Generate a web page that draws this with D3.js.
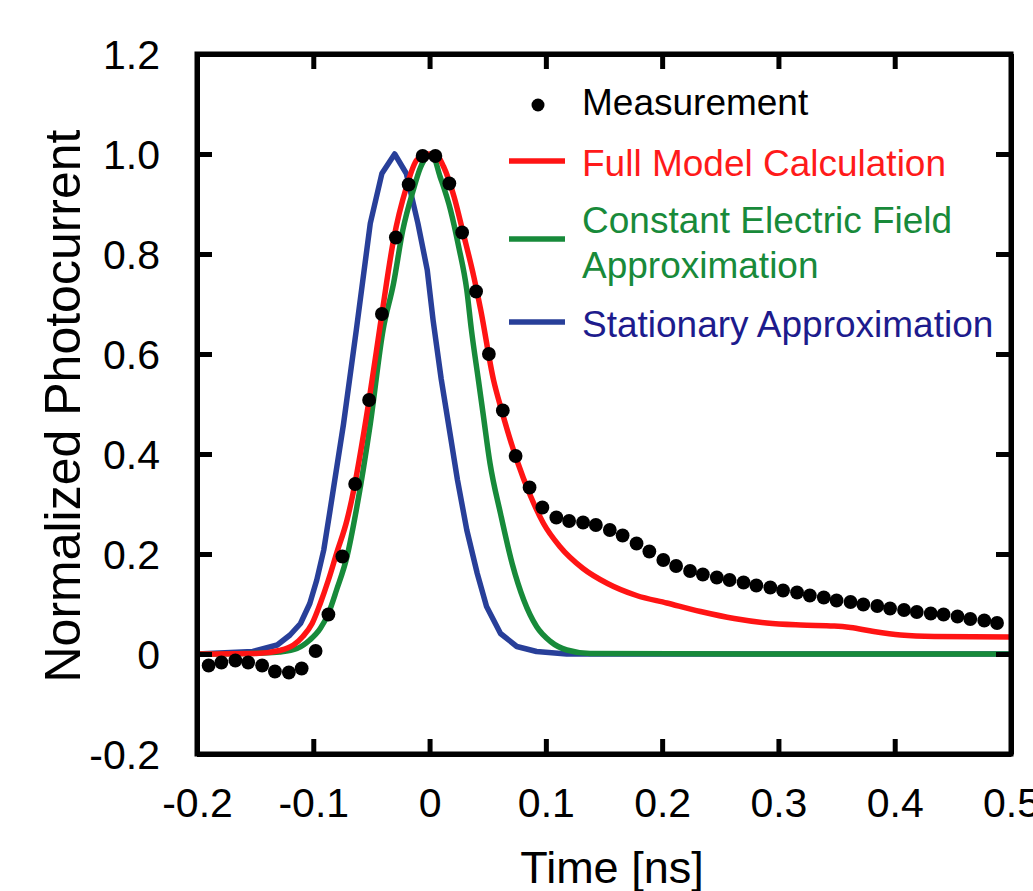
<!DOCTYPE html>
<html>
<head>
<meta charset="utf-8">
<script src="https://cdn.jsdelivr.net/npm/d3@7"></script>
<style>
    body { margin: 0; background: #fff; }
    #chart-area { width: 1033px; height: 891px; }
    text { font-family: "Liberation Sans", Arial, sans-serif; }
</style>
</head>
<body>
<div id="chart-area"></div>
<script>

// measurement points
const measTime = [-0.190, -0.179, -0.167, -0.156, -0.144, -0.133, -0.121, -0.110, -0.098, -0.087,
    -0.075, -0.064, -0.052, -0.041, -0.029, -0.018, -0.006, 0.005, 0.017, 0.028,
    0.040, 0.051, 0.063, 0.074, 0.086, 0.097, 0.109, 0.120, 0.132, 0.143,
    0.155, 0.166, 0.178, 0.189, 0.201, 0.212, 0.224, 0.235, 0.247, 0.258,
    0.270, 0.281, 0.293, 0.304, 0.316, 0.327, 0.339, 0.350, 0.362, 0.373,
    0.385, 0.396, 0.408, 0.419, 0.431, 0.442, 0.454, 0.465, 0.477, 0.488];
const measValue = [-0.023, -0.017, -0.013, -0.017, -0.023, -0.035, -0.037, -0.029, 0.006, 0.079,
    0.195, 0.340, 0.508, 0.680, 0.833, 0.939, 0.996, 0.996, 0.941, 0.843,
    0.725, 0.600, 0.487, 0.396, 0.333, 0.293, 0.273, 0.266, 0.263, 0.258,
    0.248, 0.237, 0.221, 0.205, 0.188, 0.176, 0.166, 0.159, 0.153, 0.148,
    0.143, 0.137, 0.133, 0.127, 0.123, 0.117, 0.113, 0.107, 0.104, 0.099,
    0.096, 0.091, 0.088, 0.084, 0.081, 0.079, 0.075, 0.070, 0.067, 0.062];

// full model calculation
const fullTime = [-0.200, -0.149, -0.129, -0.117, -0.109, -0.101, -0.094, -0.087, -0.080, -0.071,
    -0.067, -0.052, -0.041, -0.031, -0.020, -0.011, -0.002, 0.006, 0.012, 0.021,
    0.029, 0.038, 0.044, 0.055, 0.062, 0.075, 0.087, 0.098, 0.112, 0.132,
    0.153, 0.178, 0.204, 0.233, 0.262, 0.290, 0.319, 0.348, 0.362, 0.382,
    0.405, 0.434, 0.500];
const fullValue = [0.000, 0.001, 0.007, 0.018, 0.035, 0.061, 0.101, 0.148, 0.201, 0.268,
    0.308, 0.508, 0.680, 0.828, 0.933, 0.988, 1.000, 0.998, 0.975, 0.915,
    0.841, 0.755, 0.688, 0.548, 0.487, 0.388, 0.315, 0.261, 0.215, 0.171,
    0.141, 0.117, 0.102, 0.085, 0.071, 0.062, 0.058, 0.056, 0.053, 0.045,
    0.038, 0.035, 0.034];

// constant electric field approximation
const constTime = [-0.200, -0.143, -0.129, -0.114, -0.103, -0.094, -0.087, -0.080, -0.071, -0.063,
    -0.051, -0.040, -0.031, -0.023, -0.014, -0.008, -0.001, 0.002, 0.009, 0.018,
    0.025, 0.032, 0.036, 0.042, 0.046, 0.052, 0.061, 0.071, 0.081, 0.092,
    0.104, 0.118, 0.138, 0.276, 0.500];
const constValue = [0.000, 0.002, 0.004, 0.011, 0.028, 0.051, 0.081, 0.128, 0.195, 0.288,
    0.460, 0.648, 0.741, 0.848, 0.928, 0.972, 0.998, 1.000, 0.955, 0.888,
    0.815, 0.728, 0.648, 0.548, 0.481, 0.381, 0.281, 0.181, 0.108, 0.055,
    0.025, 0.008, 0.001, 0.000, 0.000];

// stationary approximation
const statTime = [-0.200, -0.152, -0.131, -0.120, -0.111, -0.103, -0.097, -0.091, -0.086, -0.074,
    -0.063, -0.051, -0.041, -0.030, -0.020, -0.010, -0.002, 0.003, 0.010, 0.018,
    0.024, 0.032, 0.041, 0.049, 0.061, 0.075, 0.092, 0.118, 0.500];
const statValue = [0.000, 0.005, 0.018, 0.038, 0.061, 0.101, 0.148, 0.208, 0.281, 0.460,
    0.648, 0.861, 0.961, 1.000, 0.961, 0.861, 0.768, 0.668, 0.550, 0.435,
    0.348, 0.248, 0.161, 0.095, 0.041, 0.015, 0.005, 0.000, 0.000];

const xTicks = [-0.2, -0.1, 0, 0.1, 0.2, 0.3, 0.4, 0.5];
const xTickLabels = ["-0.2", "-0.1", "0", "0.1", "0.2", "0.3", "0.4", "0.5"];
const yTicks = [-0.2, 0, 0.2, 0.4, 0.6, 0.8, 1.0, 1.2];
const yTickLabels = ["-0.2", "0", "0.2", "0.4", "0.6", "0.8", "1.0", "1.2"];

const seriesNames = ["Full Model Calculation", "Constant Electric Field|Approximation", "Stationary Approximation"];
const seriesColors = ["#ff1414", "#178a3a", "#283f99"];
const seriesTextColors = ["#ff1a1a", "#188a3a", "#1d1b8d"];


class PhotocurrentVis {

    constructor(parentElement) {
        this.parentElement = parentElement;
        this.initVis();
    }

    initVis() {
        let vis = this;

        vis.margin = {top: 54, right: 22, bottom: 137, left: 197};
        vis.width = 1033 - vis.margin.left - vis.margin.right;
        vis.height = 891 - vis.margin.top - vis.margin.bottom;

        vis.svg = d3.select("#" + vis.parentElement).append("svg")
            .attr("width", 1033)
            .attr("height", 891);

        vis.g = vis.svg.append("g")
            .attr("transform", "translate(" + vis.margin.left + "," + vis.margin.top + ")");

        vis.x = d3.scaleLinear().domain([-0.2, 0.5]).range([0, vis.width]);
        vis.y = d3.scaleLinear().domain([-0.2, 1.2]).range([vis.height, 0]);

        vis.updateVis();
    }

    updateVis() {
        let vis = this;

        let line = d3.line()
            .x(d => vis.x(d[0]))
            .y(d => vis.y(d[1]));

        let curves = [
            {t: statTime, v: statValue, c: seriesColors[2], curve: d3.curveLinear},
            {t: constTime, v: constValue, c: seriesColors[1], curve: d3.curveMonotoneX},
            {t: fullTime, v: fullValue, c: seriesColors[0], curve: d3.curveMonotoneX}
        ];

        curves.forEach(s => {
            vis.g.append("path")
                .datum(d3.zip(s.t, s.v))
                .attr("fill", "none")
                .attr("stroke", s.c)
                .attr("stroke-width", 5.5)
                .attr("stroke-linejoin", "round")
                .attr("d", line.curve(s.curve));
        });

        vis.g.append("g")
            .selectAll("circle")
            .data(d3.zip(measTime, measValue))
            .enter().append("circle")
            .attr("cx", d => vis.x(d[0]))
            .attr("cy", d => vis.y(d[1]))
            .attr("r", 6.9)
            .attr("fill", "black");

        // axes, ticks pointing inward on all four sides
        let tickLen = 15;
        let axisStroke = g => g.selectAll("line, path").attr("stroke", "black").attr("stroke-width", 5);

        vis.g.append("g")
            .attr("transform", "translate(0," + vis.height + ")")
            .call(d3.axisBottom(vis.x).tickValues(xTicks).tickSizeInner(-tickLen).tickSizeOuter(0)
                .tickFormat((d, i) => xTickLabels[i]).tickPadding(34))
            .call(axisStroke)
            .call(g => g.selectAll("text").attr("font-size", 41).attr("fill", "black")
                .attr("font-family", "Liberation Sans, Arial, sans-serif"));

        vis.g.append("g")
            .call(d3.axisTop(vis.x).tickValues(xTicks).tickSizeInner(-tickLen).tickSizeOuter(0).tickFormat(""))
            .call(axisStroke);

        vis.g.append("g")
            .call(d3.axisLeft(vis.y).tickValues(yTicks).tickSizeInner(-tickLen).tickSizeOuter(0)
                .tickFormat((d, i) => yTickLabels[i]).tickPadding(37))
            .call(axisStroke)
            .call(g => g.selectAll("text").attr("font-size", 41).attr("fill", "black").attr("dy", "0.36em")
                .attr("font-family", "Liberation Sans, Arial, sans-serif"));

        vis.g.append("g")
            .attr("transform", "translate(" + vis.width + ",0)")
            .call(d3.axisRight(vis.y).tickValues(yTicks).tickSizeInner(-tickLen).tickSizeOuter(0).tickFormat(""))
            .call(axisStroke);

        // frame
        vis.g.append("rect")
            .attr("width", vis.width)
            .attr("height", vis.height)
            .attr("fill", "none")
            .attr("stroke", "black")
            .attr("stroke-width", 5);

        // axis titles
        vis.svg.append("text")
            .attr("x", 612)
            .attr("y", 883)
            .attr("text-anchor", "middle")
            .attr("font-size", 45)
            .text("Time [ns]");

        vis.svg.append("text")
            .attr("transform", "translate(80,406) rotate(-90)")
            .attr("text-anchor", "middle")
            .attr("font-size", 50)
            .text("Normalized Photocurrent");

        // legend
        let legend = vis.svg.append("g");
        let legX = 582;

        legend.append("circle")
            .attr("cx", 538).attr("cy", 105).attr("r", 6.5).attr("fill", "black");
        legend.append("text")
            .attr("x", legX).attr("y", 115).attr("font-size", 37).attr("fill", "black")
            .text("Measurement");

        let lineY = [161, 239, 322];
        let textY = [176, 233, 337];

        seriesNames.forEach((name, i) => {
            legend.append("line")
                .attr("x1", 509).attr("x2", 565)
                .attr("y1", lineY[i]).attr("y2", lineY[i])
                .attr("stroke", seriesColors[i])
                .attr("stroke-width", 5.5);

            let txt = legend.append("text")
                .attr("x", legX).attr("y", textY[i])
                .attr("font-size", 37)
                .attr("fill", seriesTextColors[i]);

            name.split("|").forEach((part, j) => {
                txt.append("tspan").attr("x", legX).attr("dy", j === 0 ? 0 : 45).text(part);
            });
        });
    }
}

let photocurrentVis = new PhotocurrentVis("chart-area");

</script>
</body>
</html>
